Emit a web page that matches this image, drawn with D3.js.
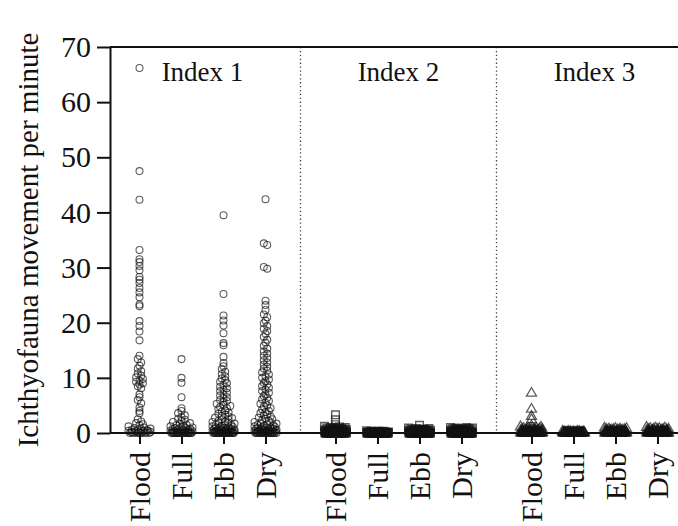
<!DOCTYPE html>
<html>
<head>
<meta charset="utf-8">
<script src="https://cdn.jsdelivr.net/npm/d3@7"></script>
<style>
  html, body { margin: 0; padding: 0; background: #fff; }
  svg { display: block; }
  svg text { font-family: "Liberation Serif", "Times New Roman", serif !important; fill: #111; }
</style>
</head>
<body>
<svg id="chart" width="678" height="526"></svg>
<script>
// ---------------- data ----------------
const panels = ["Index 1", "Index 2", "Index 3"];
const phases = ["Flood", "Full", "Ebb", "Dry"];
const yTicks = [0, 10, 20, 30, 40, 50, 60, 70];
const yTitle = "Ichthyofauna movement per minute";

const index1Flood = [66.2, 47.5, 42.3, 33.2, 31.5, 31.0, 30.3, 29.5, 28.3, 27.8, 27.2, 26.3, 25.5, 24.6, 23.3, 23.0,
  20.3, 19.4, 18.4, 16.8, 14.0, 13.4, 12.8, 12.2, 11.7, 11.2, 10.8, 10.4, 10.1, 9.8, 9.5, 9.3, 9.0, 8.8, 8.5, 8.1,
  7.0, 6.5, 6.0, 5.4, 4.6, 4.0, 3.6, 2.5, 2.1, 1.8, 1.6, 1.4, 1.2, 1.0, 0.9, 0.8, 0.7, 0.6, 0.5, 0.5, 0.4, 0.4,
  0.3, 0.3, 0.2, 0.2, 0.1, 0.1, 0.1, 0, 0, 0, 0, 0, 0, 0];
const index1Full = [13.4, 10.0, 9.1, 6.5, 4.5, 4.0, 3.6, 3.2, 2.9, 2.6, 2.4, 2.2, 2.0, 1.8, 1.7, 1.5, 1.4, 1.3, 1.2,
  1.1, 1.0, 0.9, 0.9, 0.8, 0.7, 0.7, 0.6, 0.5, 0.5, 0.4, 0.4, 0.3, 0.3, 0.3, 0.2, 0.2, 0.2, 0.1, 0.1, 0.1, 0.1,
  0, 0, 0, 0, 0, 0, 0, 0, 0, 0, 0, 0, 0, 0, 0];
const index1Ebb = [39.5, 25.2, 21.3, 20.4, 19.5, 18.1, 16.3, 15.9, 13.8, 12.7, 12.1, 11.6, 11.1, 10.7, 10.3, 9.9, 9.6,
  9.3, 9.0, 8.7, 8.4, 8.1, 7.8, 7.6, 7.3, 7.0, 6.8, 6.5, 6.3, 6.0, 5.8, 5.6, 5.3, 5.1, 4.9, 4.7, 4.5, 4.3, 4.1,
  3.9, 3.7, 3.5, 3.3, 3.1, 3.0, 2.8, 2.7, 2.5, 2.4, 2.2, 2.1, 2.0, 1.9, 1.8, 1.7, 1.6, 1.5, 1.4, 1.3, 1.2, 1.1,
  1.0, 1.0, 0.9, 0.9, 0.8, 0.8, 0.7, 0.7, 0.6, 0.6, 0.5, 0.5, 0.5, 0.4, 0.4, 0.4, 0.3, 0.3, 0.3, 0.3, 0.2, 0.2,
  0.2, 0.2, 0.1, 0.1, 0.1, 0.1, 0.1, 0, 0, 0, 0, 0, 0, 0, 0, 0, 0, 0, 0, 0, 0, 0, 0];
const index1Dry = [42.4, 34.4, 34.1, 30.1, 29.8, 24.0, 23.2, 22.3, 21.5, 21.0, 20.4, 19.9, 19.4, 18.9, 18.5, 18.0,
  17.4, 16.9, 16.4, 15.8, 15.3, 14.8, 14.4, 14.0, 13.6, 13.2, 12.8, 12.4, 12.0, 11.7, 11.3, 11.0, 10.6, 10.3, 10.0,
  9.7, 9.4, 9.1, 8.8, 8.5, 8.2, 7.9, 7.6, 7.3, 7.0, 6.7, 6.4, 6.1, 5.8, 5.5, 5.3, 5.0, 4.8, 4.5, 4.3, 4.0, 3.8,
  3.6, 3.4, 3.2, 3.0, 2.8, 2.6, 2.5, 2.3, 2.2, 2.0, 1.9, 1.8, 1.7, 1.6, 1.5, 1.4, 1.3, 1.2, 1.1, 1.0, 1.0, 0.9,
  0.9, 0.8, 0.8, 0.7, 0.7, 0.6, 0.6, 0.5, 0.5, 0.5, 0.4, 0.4, 0.4, 0.3, 0.3, 0.3, 0.2, 0.2, 0.2, 0.2, 0.1, 0.1,
  0.1, 0.1, 0, 0, 0, 0, 0, 0, 0, 0, 0, 0, 0, 0, 0, 0];

const index2Flood = [3.3, 2.4, 1.5, 1.2, 1.1, 1.0, 1.0, 0.9, 0.9, 0.8, 0.8, 0.8, 0.7, 0.7, 0.7, 0.6, 0.6, 0.6, 0.6,
  0.5, 0.5, 0.5, 0.5, 0.4, 0.4, 0.4, 0.4, 0.4, 0.3, 0.3, 0.3, 0.3, 0.3, 0.3, 0.2, 0.2, 0.2, 0.2, 0.2, 0.2,
  0.1, 0.1, 0.1, 0.1, 0.1, 0.1, 0.1, 0.1, 0, 0, 0, 0, 0, 0, 0, 0, 0, 0, 0, 0, 0, 0, 0, 0, 0, 0, 0, 0, 0, 0, 0, 0,
  0, 0, 0, 0, 0, 0];
const index2Full = [0.4, 0.3, 0.3, 0.3, 0.3, 0.2, 0.2, 0.2, 0.2, 0.2, 0.2, 0.2, 0.2, 0.1, 0.1, 0.1, 0.1, 0.1, 0.1,
  0.1, 0.1, 0.1, 0.1, 0, 0, 0, 0, 0, 0, 0, 0, 0, 0, 0, 0, 0, 0, 0, 0, 0, 0, 0, 0, 0, 0, 0, 0, 0, 0, 0, 0, 0, 0,
  0, 0, 0, 0, 0, 0, 0, 0];
const index2Ebb = [1.4, 0.9, 0.8, 0.8, 0.7, 0.7, 0.7, 0.6, 0.6, 0.6, 0.6, 0.5, 0.5, 0.5, 0.5, 0.5, 0.4, 0.4, 0.4,
  0.4, 0.4, 0.3, 0.3, 0.3, 0.3, 0.3, 0.3, 0.2, 0.2, 0.2, 0.2, 0.2, 0.2, 0.1, 0.1, 0.1, 0.1, 0.1, 0.1, 0.1, 0.1,
  0, 0, 0, 0, 0, 0, 0, 0, 0, 0, 0, 0, 0, 0, 0, 0, 0, 0, 0, 0, 0, 0, 0, 0, 0, 0, 0, 0, 0, 0, 0, 0, 0, 0, 0];
const index2Dry = [1.0, 1.0, 0.9, 0.9, 0.8, 0.8, 0.8, 0.7, 0.7, 0.7, 0.6, 0.6, 0.6, 0.6, 0.5, 0.5, 0.5, 0.5, 0.5,
  0.4, 0.4, 0.4, 0.4, 0.4, 0.3, 0.3, 0.3, 0.3, 0.3, 0.3, 0.2, 0.2, 0.2, 0.2, 0.2, 0.2, 0.1, 0.1, 0.1, 0.1, 0.1,
  0.1, 0.1, 0.1, 0, 0, 0, 0, 0, 0, 0, 0, 0, 0, 0, 0, 0, 0, 0, 0, 0, 0, 0, 0, 0, 0, 0, 0, 0, 0, 0, 0, 0, 0, 0, 0,
  0, 0, 0];

const index3Flood = [7.2, 4.3, 3.0, 2.4, 1.3, 1.1, 1.0, 0.9, 0.8, 0.8, 0.7, 0.7, 0.7, 0.6, 0.6, 0.6, 0.5, 0.5, 0.5,
  0.5, 0.4, 0.4, 0.4, 0.4, 0.3, 0.3, 0.3, 0.3, 0.3, 0.2, 0.2, 0.2, 0.2, 0.2, 0.1, 0.1, 0.1, 0.1, 0.1, 0.1,
  0, 0, 0, 0, 0, 0, 0, 0, 0, 0, 0, 0, 0, 0, 0, 0, 0, 0, 0, 0, 0, 0, 0, 0, 0, 0, 0, 0, 0, 0];
const index3Full = [0.3, 0.3, 0.3, 0.2, 0.2, 0.2, 0.2, 0.2, 0.1, 0.1, 0.1, 0.1, 0.1, 0.1, 0.1, 0.1, 0, 0, 0, 0, 0,
  0, 0, 0, 0, 0, 0, 0, 0, 0, 0, 0, 0, 0, 0, 0, 0, 0, 0, 0, 0, 0, 0, 0, 0, 0, 0, 0, 0, 0, 0];
const index3Ebb = [0.9, 0.8, 0.8, 0.7, 0.7, 0.6, 0.6, 0.6, 0.5, 0.5, 0.5, 0.4, 0.4, 0.4, 0.4, 0.3, 0.3, 0.3, 0.3,
  0.3, 0.2, 0.2, 0.2, 0.2, 0.2, 0.1, 0.1, 0.1, 0.1, 0.1, 0.1, 0, 0, 0, 0, 0, 0, 0, 0, 0, 0, 0, 0, 0, 0, 0, 0, 0,
  0, 0, 0, 0, 0, 0, 0, 0, 0, 0, 0, 0, 0];
const index3Dry = [1.0, 0.9, 0.9, 0.8, 0.8, 0.7, 0.7, 0.6, 0.6, 0.6, 0.5, 0.5, 0.5, 0.4, 0.4, 0.4, 0.4, 0.3, 0.3,
  0.3, 0.3, 0.3, 0.2, 0.2, 0.2, 0.2, 0.2, 0.1, 0.1, 0.1, 0.1, 0.1, 0.1, 0, 0, 0, 0, 0, 0, 0, 0, 0, 0, 0, 0, 0, 0,
  0, 0, 0, 0, 0, 0, 0, 0, 0, 0, 0, 0, 0, 0, 0];

const series = [
  [index1Flood, index1Full, index1Ebb, index1Dry],
  [index2Flood, index2Full, index2Ebb, index2Dry],
  [index3Flood, index3Full, index3Ebb, index3Dry]
];

// ---------------- layout ----------------
const FONT = '"Liberation Serif", "Times New Roman", serif';
const svg = d3.select("#chart");
const axisX = 110, plotTop = 47, plotBottom = 433, rightEdge = 678;

const y = d3.scaleLinear().domain([0, 70]).range([plotBottom, plotTop]);
const xPanel = d3.scaleBand().domain(panels).range([104.5, 692.5]).paddingInner(0).paddingOuter(0);
const xPhase = d3.scalePoint().domain(phases).range([0, xPanel.bandwidth()]).padding(0.833);

const symbols = [d3.symbolCircle, d3.symbolSquare, d3.symbolTriangle];
const symSize = [38, 58, 44];
const symWidth = [1.1, 1.4, 1.3];

// separators
svg.selectAll("line.sep").data(panels.slice(1)).join("line")
  .attr("class", "sep")
  .attr("x1", d => xPanel(d)).attr("x2", d => xPanel(d))
  .attr("y1", plotTop).attr("y2", plotBottom)
  .attr("stroke", "#444").attr("stroke-width", 1.3)
  .attr("stroke-dasharray", "1.3,2.6");

// column scatter placement: points binned into rows, each row spread side by side
function columnScatter(values, rowH, spacing, maxHalf) {
  const rows = d3.groups(values.map(v => ({ v, py: y(v) })),
    p => Math.floor((plotBottom - p.py + rowH / 2) / rowH));
  const out = [];
  rows.forEach(([, pts]) => {
    const n = pts.length;
    let sp = spacing;
    if (n > 1 && (n - 1) * sp > 2 * maxHalf) sp = 2 * maxHalf / (n - 1);
    const slots = d3.range(n).map(j => (j - (n - 1) / 2) * sp);
    const order = d3.range(n).sort((a, b) => ((a * 0.618) % 1) - ((b * 0.618) % 1));
    pts.forEach((p, k) => { p.off = slots[order[k]]; out.push(p); });
  });
  return out;
}

panels.forEach((panel, pi) => {
  const g = svg.append("g").attr("transform", `translate(${xPanel(panel)},0)`);
  phases.forEach((ph, ci) => {
    const pts = columnScatter(series[pi][ci], 4.5, 3.4, 11);
    const sym = d3.symbol().type(symbols[pi]).size(symSize[pi]);
    g.append("g").selectAll("path").data(pts).join("path")
      .attr("transform", d => `translate(${xPhase(ph) + d.off},${d.py})`)
      .attr("d", sym)
      .attr("fill", "none")
      .attr("stroke", "#111")
      .attr("stroke-opacity", 0.68)
      .attr("stroke-width", symWidth[pi]);
  });
  // panel label
  g.append("text")
    .attr("x", xPanel.bandwidth() / 2)
    .attr("y", 81)
    .attr("text-anchor", "middle")
    .style("font-family", FONT)
    .attr("font-size", 27)
    .text(panel);
  // bottom axis with ticks and rotated labels
  const ax = g.append("g").attr("transform", `translate(0,${plotBottom})`)
    .call(d3.axisBottom(xPhase).tickSize(11).tickSizeOuter(0).tickPadding(8));
  ax.attr("font-family", null);
  ax.select(".domain").remove();
  ax.selectAll(".tick line").attr("stroke", "#111").attr("stroke-width", 2);
  ax.selectAll(".tick text")
    .style("font-family", FONT)
    .attr("font-size", 30)
    .attr("fill", "#111")
    .attr("text-anchor", "end")
    .attr("transform", "rotate(-90)")
    .attr("x", -19)
    .attr("y", 0)
    .attr("dy", "0.33em");
});

// frame lines
svg.append("line").attr("x1", axisX).attr("x2", rightEdge).attr("y1", plotBottom).attr("y2", plotBottom)
  .attr("stroke", "#111").attr("stroke-width", 2);
svg.append("line").attr("x1", axisX).attr("x2", rightEdge).attr("y1", plotTop).attr("y2", plotTop)
  .attr("stroke", "#111").attr("stroke-width", 2);

// y axis
const yAx = svg.append("g").attr("transform", `translate(${axisX},0)`)
  .call(d3.axisLeft(y).tickValues(yTicks).tickSize(13).tickSizeOuter(0).tickPadding(6));
yAx.attr("font-family", null);
yAx.select(".domain").attr("stroke", "#111").attr("stroke-width", 2);
yAx.selectAll(".tick line").attr("stroke", "#111").attr("stroke-width", 2);
yAx.selectAll(".tick text")
  .style("font-family", FONT)
  .attr("font-size", 30)
  .attr("fill", "#111");

// y title
svg.append("text")
  .attr("transform", "translate(28,240) rotate(-90)")
  .attr("text-anchor", "middle")
  .attr("dy", "0.35em")
  .style("font-family", FONT)
  .attr("font-size", 29)
  .text(yTitle);
</script>
</body>
</html>
